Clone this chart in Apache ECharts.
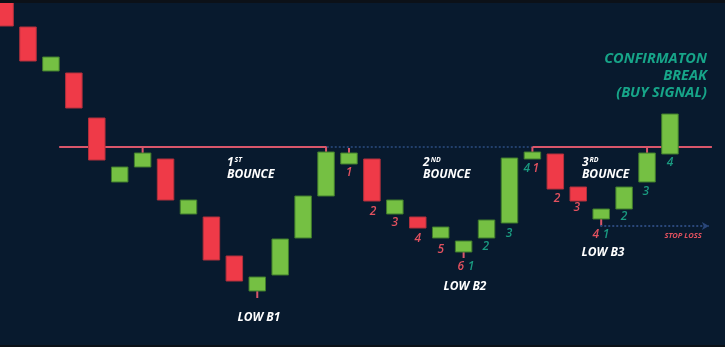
<!DOCTYPE html>
<html>
<head>
<meta charset="utf-8">
<script src="https://cdn.jsdelivr.net/npm/echarts@6/dist/echarts.min.js"></script>
<style>
  html, body { margin: 0; padding: 0; background: #0b1118; }
  #chart { position: absolute; left: 0; top: 0; width: 725px; height: 347px; }
  .strip { position: absolute; left: 0; width: 725px; background: #0c1118; }
</style>
</head>
<body>
<div id="chart"></div>
<div class="strip" style="top:0;height:3px"></div>
<div class="strip" style="top:345px;height:2px"></div>
<script>
// price units: arbitrary (neckline = 200)
const opens  = [345, 320, 276, 274, 229, 165, 180, 188, 133, 130, 91, 56, 72, 109, 151, 183, 188, 133, 130, 109, 95, 109, 124, 188, 193, 160, 128, 138, 165, 193];
const closes = [321, 286, 290, 239, 187, 180, 194, 147, 147, 87, 66, 70, 108, 151, 195, 194, 146, 147, 119, 120, 106, 127, 189, 195, 158, 146, 138, 160, 194, 233];
const highs  = [null, null, null, null, null, null, 200, null, null, null, null, null, null, null, 200, 199, null, null, null, null, null, null, null, 200, null, null, null, null, 200, null];
const lows   = [null, null, null, null, null, null, null, null, null, null, null, 49, null, null, null, null, null, null, null, null, 89, null, null, null, null, null, 121, null, null, null];

const necklineLevel = 200;
const necklineRed1 = [2.36, 14.03];
const necklineDotted = [14.03, 23.0];
const necklineRed2 = [23.0, 30.83];
const stopLossLevel = 121;
const stopLossSpan = [25.96, 30.7];

// counting labels under the candles: [x, y, text, kind]
const countX    = [15.0, 16.05, 17.0, 18.0, 19.0, 19.88, 20.32, 20.97, 21.98, 22.76, 23.15, 24.07, 24.94, 25.77, 26.21, 27.0, 27.95, 29.0];
const countY    = [174, 135, 124, 108, 97, 80, 80, 100, 113, 178, 178, 148, 139, 112, 112, 130, 155, 184];
const countText = ["1", "2", "3", "4", "5", "6", "1", "2", "3", "4", "1", "2", "3", "4", "1", "2", "3", "4"];
const countKind = ["dn", "dn", "dn", "dn", "dn", "dn", "up", "up", "up", "up", "dn", "dn", "dn", "dn", "up", "up", "up", "up"];

const bounceX = [9.68, 18.23, 25.16];
const bounceY = [190, 190, 190];
const bounceOrdinal = ["1", "2", "3"];
const bounceSuffix = ["ST", "ND", "RD"];

const lowX = [11.07, 20.06, 26.08];
const lowY = [29.5, 60, 94.5];
const lowText = ["LOW B1", "LOW B2", "LOW B3"];

const signalX = 30.61;
const signalY = [288, 271, 254];
const signalText = ["CONFIRMATON", "BREAK", "(BUY SIGNAL)"];

const stopLabelX = 29.57;
const stopLabelY = 111.5;
const stopLabelText = "STOP LOSS";

const bg = "#081a2e";
const red = "#ef3a48";
const redEdge = "#b0303c";
const green = "#75c043";
const greenEdge = "#3f7a2c";
const wickColor = "#d9566a";
const teal = "#17a589";
const numRed = "#e2515f";
const numTeal = "#1a9a80";
const dotted = "#22406c";
const font = "Open Sans";

const candleData = opens.map((o, i) => [
  i, o, closes[i],
  highs[i] === null ? Math.max(o, closes[i]) : highs[i],
  lows[i] === null ? Math.min(o, closes[i]) : lows[i],
]);

function renderCandle(params, api) {
  const x = api.value(0);
  const o = api.value(1);
  const c = api.value(2);
  const up = c >= o;
  const w = api.size([1, 0])[0] * 0.72;
  const top = api.coord([x, Math.max(o, c)]);
  const bot = api.coord([x, Math.min(o, c)]);
  const hi = api.coord([x, api.value(3)]);
  const lo = api.coord([x, api.value(4)]);
  const children = [];
  if (hi[1] < top[1] - 0.5) {
    children.push({ type: "line", shape: { x1: top[0], y1: hi[1], x2: top[0], y2: top[1] }, style: { stroke: wickColor, lineWidth: 2 } });
  }
  if (lo[1] > bot[1] + 0.5) {
    children.push({ type: "line", shape: { x1: bot[0], y1: bot[1], x2: bot[0], y2: lo[1] }, style: { stroke: wickColor, lineWidth: 2 } });
  }
  children.push({
    type: "rect",
    shape: { x: top[0] - w / 2, y: top[1], width: w, height: bot[1] - top[1] },
    style: { fill: up ? green : red, stroke: up ? greenEdge : redEdge, lineWidth: 1 },
  });
  return { type: "group", children };
}

function textSeries(points, build) {
  return {
    type: "custom",
    silent: true,
    z: 5,
    data: points,
    renderItem: (params, api) => {
      const p = api.coord([api.value(0), api.value(1)]);
      return { type: "text", x: p[0], y: p[1], style: build(params.dataIndex) };
    },
  };
}

function levelLine(span, level, color, type) {
  return {
    type: "line",
    silent: true,
    showSymbol: false,
    data: [[span[0], level], [span[1], level]],
    lineStyle: { color, width: 2, type },
    z: 1,
  };
}

const chart = echarts.init(document.getElementById("chart"), null, { renderer: "canvas" });
chart.setOption({
  animation: false,
  backgroundColor: bg,
  grid: { left: 0, right: 0, top: 0, bottom: 0 },
  xAxis: { type: "value", min: -0.221, max: 31.4, show: false },
  yAxis: { type: "value", min: 0, max: 347, show: false },
  series: [
    levelLine(necklineRed1, necklineLevel, wickColor, "solid"),
    levelLine(necklineDotted, necklineLevel, dotted, "dotted"),
    levelLine(necklineRed2, necklineLevel, wickColor, "solid"),
    {
      type: "line",
      silent: true,
      data: [],
      markLine: {
        silent: true,
        symbol: ["none", "arrow"],
        symbolSize: [6, 7],
        label: { show: false },
        lineStyle: { color: "#2a477a", width: 2, type: "dotted" },
        data: [[{ coord: [stopLossSpan[0], stopLossLevel] }, { coord: [stopLossSpan[1], stopLossLevel] }]],
      },
    },
    { type: "custom", renderItem: renderCandle, data: candleData, z: 3 },
    textSeries(countX.map((x, i) => [x, countY[i]]), (i) => ({
      text: countText[i],
      fill: countKind[i] === "dn" ? numRed : numTeal,
      font: `italic 600 12px "${font}"`,
      align: "center",
      verticalAlign: "middle",
    })),
    textSeries(bounceX.map((x, i) => [x, bounceY[i]]), (i) => ({
      text: `{n|${bounceOrdinal[i]}}{s|${bounceSuffix[i]}}\n{b|BOUNCE}`,
      align: "left",
      verticalAlign: "top",
      rich: {
        n: { fill: "#ffffff", font: `italic 700 12px "${font}"`, lineHeight: 12 },
        s: { fill: "#ffffff", font: `italic 700 7px "${font}"`, lineHeight: 12, padding: [0, 0, 6, 1] },
        b: { fill: "#ffffff", font: `italic 700 12px "${font}"`, lineHeight: 12 },
      },
    })),
    textSeries(lowX.map((x, i) => [x, lowY[i]]), (i) => ({
      text: lowText[i],
      fill: "#ffffff",
      font: `italic 700 12px "${font}"`,
      align: "center",
      verticalAlign: "middle",
    })),
    textSeries(signalY.map((y) => [signalX, y]), (i) => ({
      text: signalText[i],
      fill: teal,
      font: `italic 700 14.5px "${font}"`,
      align: "right",
      verticalAlign: "middle",
    })),
    textSeries([[stopLabelX, stopLabelY]], () => ({
      text: stopLabelText,
      fill: numRed,
      font: `italic 700 7.5px "${font}"`,
      align: "center",
      verticalAlign: "middle",
    })),
  ],
});
</script>
</body>
</html>
